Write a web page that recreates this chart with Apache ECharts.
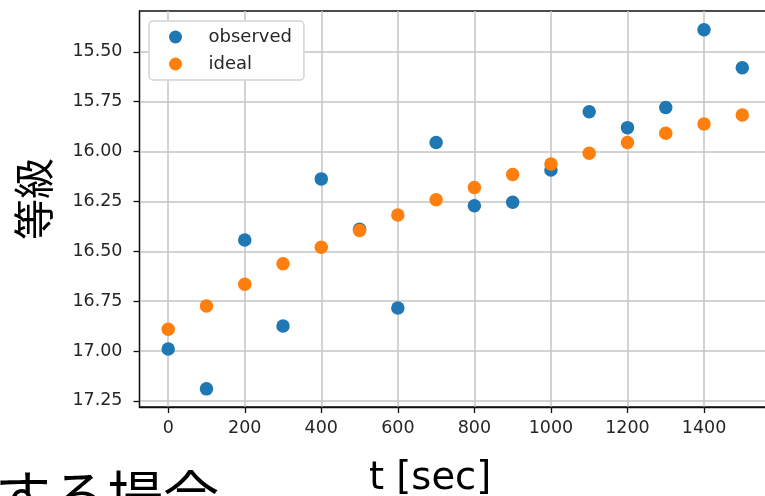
<!DOCTYPE html>
<html>
<head>
<meta charset="utf-8">
<script src="https://cdn.jsdelivr.net/npm/echarts@6/dist/echarts.min.js"></script>
<style>html,body{margin:0;padding:0;background:#fff;}#c{width:765px;height:496px;}</style>
</head>
<body>
<div id="c"></div>
<script>
const tValues = [0, 100, 200, 300, 400, 500, 600, 700, 800, 900, 1000, 1100, 1200, 1300, 1400, 1500];
const observed = [16.99, 17.19, 16.443, 16.875, 16.137, 16.39, 16.784, 15.955, 16.272, 16.254, 16.092, 15.80, 15.88, 15.779, 15.389, 15.58];
const ideal = [16.891, 16.774, 16.665, 16.563, 16.48, 16.396, 16.318, 16.242, 16.18, 16.115, 16.062, 16.008, 15.955, 15.908, 15.862, 15.817];
const xTicks = [0, 200, 400, 600, 800, 1000, 1200, 1400];
const yTicks = [15.5, 15.75, 16.0, 16.25, 16.5, 16.75, 17.0, 17.25];
const seriesNames = ['observed', 'ideal'];
const yLabel = '等級';
const xLabel = 't [sec]';
const cutText = 'する場合';

const chart = echarts.init(document.getElementById('c'));
const tickFont = { fontFamily: 'DejaVu Sans', fontSize: 17.5, color: '#262626' };
chart.setOption({
  animation: false,
  backgroundColor: '#fff',
  grid: { left: 139.5, top: 11, width: 631.5, height: 396, outerBoundsMode: 'none', containLabel: false,
          show: true, borderColor: '#111', borderWidth: 1.3, backgroundColor: 'transparent' },
  xAxis: {
    type: 'value', min: -75, max: 1575,
    axisLine: { show: true, onZero: false, lineStyle: { color: '#111', width: 1.3 } },
    axisTick: { show: true, length: 6, customValues: xTicks, lineStyle: { color: '#111', width: 1.3 } },
    axisLabel: Object.assign({ customValues: xTicks, margin: 12, formatter: v => String(v) }, tickFont),
    splitLine: { show: true, lineStyle: { color: '#c4c4c4', width: 1.5 } }
  },
  yAxis: {
    type: 'value', inverse: true, min: 15.295, max: 17.281,
    axisLine: { show: true, onZero: false, lineStyle: { color: '#111', width: 1.3 } },
    axisTick: { show: true, length: 6, customValues: yTicks, lineStyle: { color: '#111', width: 1.3 } },
    axisLabel: Object.assign({ customValues: yTicks, margin: 17, formatter: v => v.toFixed(2) }, tickFont),
    splitLine: { show: true, lineStyle: { color: '#c4c4c4', width: 1.5 } }
  },
  legend: {
    orient: 'vertical', left: 149, top: 21,
    data: seriesNames.map(n => ({ name: n, icon: 'circle' })),
    itemWidth: 56, itemHeight: 13, itemGap: 9,
    padding: [7, 12, 7, 20],
    backgroundColor: '#fff', borderColor: '#d4d4d4', borderWidth: 1.5, borderRadius: 4,
    textStyle: { fontFamily: 'DejaVu Sans', fontSize: 18, color: '#262626' }
  },
  series: [
    { name: seriesNames[0], type: 'scatter', symbolSize: 13.5, itemStyle: { color: '#1f77b4', opacity: 1 },
      data: tValues.map((t, i) => [t, observed[i]]) },
    { name: seriesNames[1], type: 'scatter', symbolSize: 13.5, itemStyle: { color: '#ff7f0e', opacity: 1 },
      data: tValues.map((t, i) => [t, ideal[i]]) }
  ],
  graphic: [
    { type: 'text', x: 33, y: 199, rotation: Math.PI / 2,
      style: { text: yLabel, fontFamily: 'Noto Sans CJK JP', fontSize: 41, fill: '#000', textAlign: 'center', textVerticalAlign: 'middle' } },
    { type: 'text', x: 369, y: 478.5,
      style: { text: xLabel, fontFamily: 'DejaVu Sans', fontSize: 38.5, letterSpacing: 2, fill: '#000', textAlign: 'left', textVerticalAlign: 'middle' } },
    { type: 'text', x: 219, y: 496,
      style: { text: cutText, fontFamily: 'Noto Sans CJK JP', fontSize: 56, fill: '#000', textAlign: 'right', textVerticalAlign: 'middle' } }
  ]
});
</script>
</body>
</html>
